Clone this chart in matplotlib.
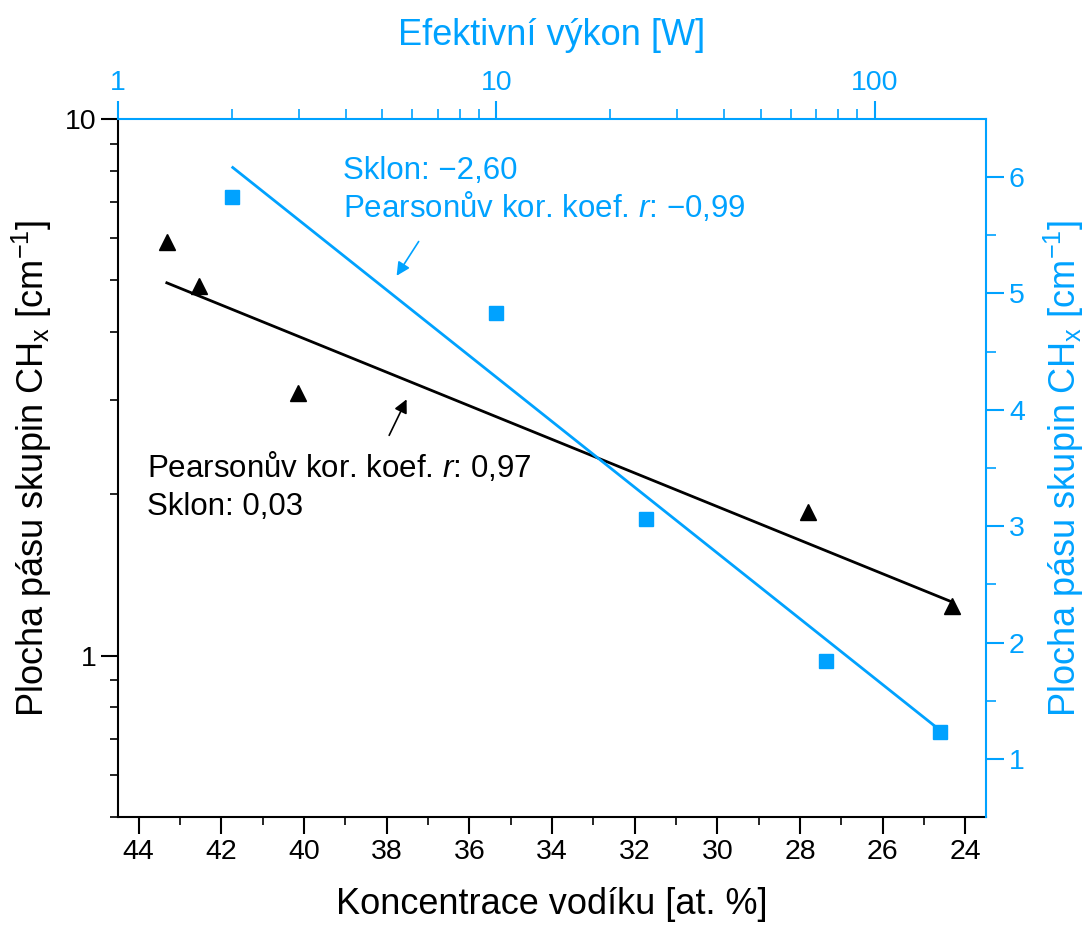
import numpy as np
import matplotlib
matplotlib.use('Agg')
import matplotlib.pyplot as plt

plt.rcParams['font.family'] = ['Liberation Sans', 'DejaVu Sans']
plt.rcParams['mathtext.fontset'] = 'custom'
plt.rcParams['mathtext.rm'] = 'Liberation Sans'
plt.rcParams['mathtext.it'] = 'Liberation Sans:italic'
plt.rcParams['axes.unicode_minus'] = True

modra = '#00A2FF'

# koncentrace vodiku vs plocha pasu (cerne trojuhelniky)
koncentrace = [43.32, 42.54, 40.14, 27.8, 24.32]
plocha_h = [5.89, 4.89, 3.08, 1.85, 1.235]
fit_h_x = [43.32, 24.32]
fit_h_y = [4.95, 1.258]

# efektivni vykon vs plocha pasu (modre ctverce)
vykon = [2.0, 10.0, 24.9, 74.5, 149.0]
plocha_p = [5.83, 4.83, 3.06, 1.845, 1.235]
fit_p_x = [2.01, 146.5]
fit_p_y = [6.083, 1.264]

fig = plt.figure(figsize=(10.91, 9.26), dpi=100)
pos = [0.1082, 0.1177, 0.7956, 0.7538]
ax = fig.add_axes(pos)
ax2 = fig.add_axes(pos, facecolor='none')

# spodni / leva osa
ax.plot(koncentrace, plocha_h, '^', color='black', markersize=12, zorder=3)
ax.plot(fit_h_x, fit_h_y, '-', color='black', lw=2)
ax.set_yscale('log')
ax.set_xlim(44.5, 23.5)
ax.set_ylim(0.5, 10)
ax.set_xticks(np.arange(24, 45, 2))
ax.set_xticks(np.arange(25, 45, 2), minor=True)
ax.set_yticks([1, 10])
ax.set_yticklabels(['1', '10'])
ax.yaxis.set_minor_formatter(matplotlib.ticker.NullFormatter())
ax.tick_params(axis='both', which='major', length=12, width=1.5, labelsize=20.5, direction='out')
ax.tick_params(axis='both', which='minor', length=6, width=1.2, direction='out')
ax.spines['top'].set_visible(False)
ax.spines['right'].set_visible(False)
ax.spines['left'].set_linewidth(1.5)
ax.spines['bottom'].set_linewidth(1.5)
ax.set_xlabel('Koncentrace vodíku [at. %]', fontsize=26, labelpad=16)
ax.set_ylabel('Plocha pásu skupin CH$_\\mathrm{x}$ [cm$^{-1}$]', fontsize=26, labelpad=8)

# horni / prava osa
ax2.plot(vykon, plocha_p, 's', color=modra, markersize=10, zorder=3)
ax2.plot(fit_p_x, fit_p_y, '-', color=modra, lw=2)
ax2.set_xscale('log')
ax2.set_xlim(1, 197)
ax2.set_ylim(0.5, 6.5)
ax2.xaxis.tick_top()
ax2.xaxis.set_label_position('top')
ax2.yaxis.tick_right()
ax2.yaxis.set_label_position('right')
ax2.set_xticks([1, 10, 100])
ax2.set_xticklabels(['1', '10', '100'])
ax2.xaxis.set_minor_formatter(matplotlib.ticker.NullFormatter())
ax2.set_yticks([1, 2, 3, 4, 5, 6])
ax2.set_yticks(np.arange(1.5, 6.5, 1), minor=True)
ax2.tick_params(axis='both', which='major', length=13, width=1.5, labelsize=20.5,
                direction='out', color=modra, labelcolor=modra)
ax2.tick_params(axis='both', which='minor', length=7, width=1.2, direction='out', color=modra)
for s in ['left', 'bottom']:
    ax2.spines[s].set_visible(False)
for s in ['top', 'right']:
    ax2.spines[s].set_color(modra)
    ax2.spines[s].set_linewidth(1.5)
ax2.set_xlabel('Efektivní výkon [W]', fontsize=26, color=modra, labelpad=18)
ax2.set_ylabel('Plocha pásu skupin CH$_\\mathrm{x}$ [cm$^{-1}$]', fontsize=26, color=modra, labelpad=12)

# popisky a sipky
ax2.text(0.259, 0.914, 'Sklon: −2,60', transform=ax2.transAxes, fontsize=22.5, color=modra, va='baseline')
ax2.text(0.259, 0.8596, 'Pearsonův kor. koef. $\\mathit{r}$: −0,99', transform=ax2.transAxes,
         fontsize=22.5, color=modra, va='baseline')
ax2.annotate('', xy=(5.40, 5.132), xytext=(6.29, 5.467),
             arrowprops=dict(arrowstyle='-|>', color=modra, lw=1.2, mutation_scale=20))

ax.text(0.0334, 0.487, 'Pearsonův kor. koef. $\\mathit{r}$: 0,97', transform=ax.transAxes,
        fontsize=22.5, color='black', va='baseline')
ax.text(0.0334, 0.4327, 'Sklon: 0,03', transform=ax.transAxes, fontsize=22.5, color='black', va='baseline')
ax.annotate('', xy=(37.49, 3.035), xytext=(37.97, 2.545),
            arrowprops=dict(arrowstyle='-|>', color='black', lw=1.2, mutation_scale=20))

fig.savefig('out.png', dpi=100)
